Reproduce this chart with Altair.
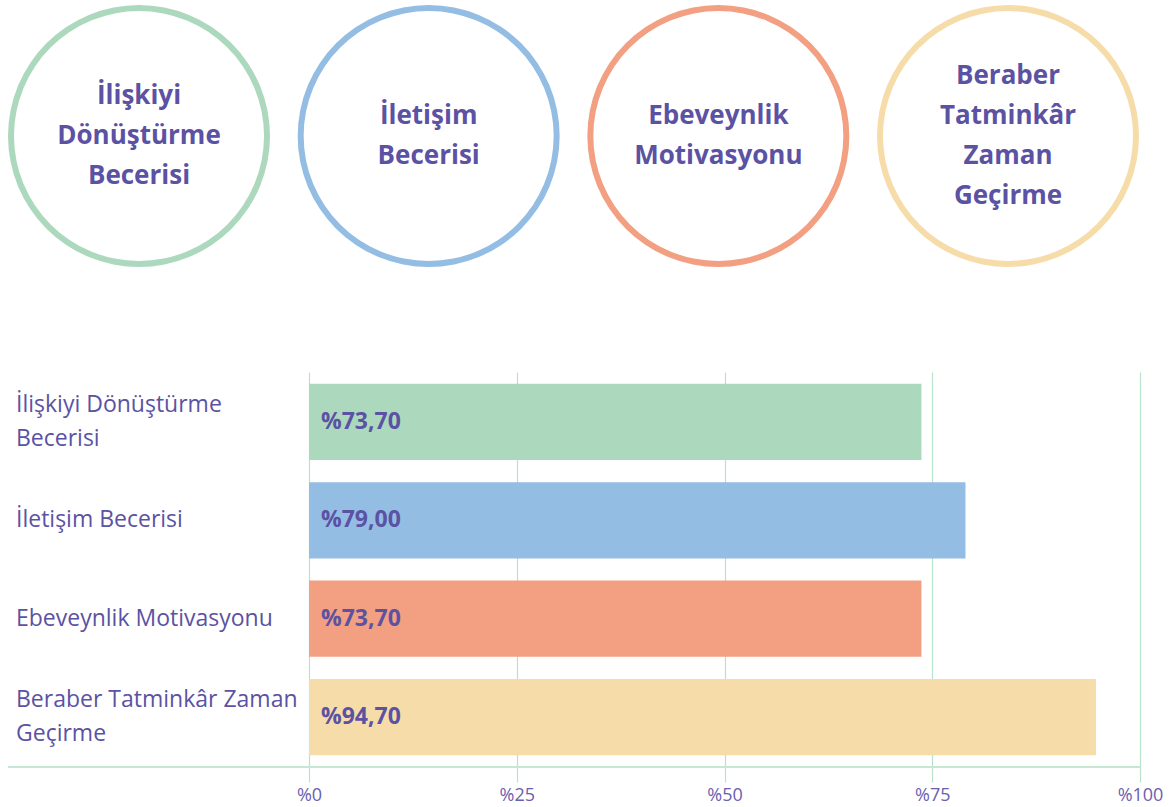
import altair as alt
import pandas as pd

categories = ["İlişkiyi Dönüştürme Becerisi", "İletişim Becerisi",
              "Ebeveynlik Motivasyonu", "Beraber Tatminkâr Zaman Geçirme"]
axis_labels = ["İlişkiyi Dönüştürme\nBecerisi", "İletişim Becerisi",
               "Ebeveynlik Motivasyonu", "Beraber Tatminkâr Zaman\nGeçirme"]
circle_labels = ["İlişkiyi\nDönüştürme\nBecerisi", "İletişim\nBecerisi",
                 "Ebeveynlik\nMotivasyonu", "Beraber\nTatminkâr\nZaman\nGeçirme"]
values = [73.70, 79.00, 73.70, 94.70]
value_labels = ["%73,70", "%79,00", "%73,70", "%94,70"]
colors = ["#acd9bd", "#94bde4", "#f29f82", "#f6dca9"]
tick_values = [0, 25, 50, 75, 100]

FONT = "Open Sans"
PURPLE = "#5b52a3"
GRID = "#b9e2cb"

df = pd.DataFrame({
    "cat": categories,
    "axis_label": axis_labels,
    "circle_label": circle_labels,
    "value": values,
    "vlabel": value_labels,
})

color_scale = alt.Scale(domain=categories, range=colors)

# Top: ring per category (x range extends to the left of the bar plot area)
x_top = alt.X("cat:N", sort=categories, axis=None,
              scale=alt.Scale(type="point", padding=0, range=[-170, 699]))
rings = alt.Chart(df).mark_arc(innerRadius=125, outerRadius=131).encode(
    x=x_top,
    theta=alt.value(0),
    theta2=alt.value(6.2832),
    color=alt.Color("cat:N", scale=color_scale, legend=None),
)
circle_text = alt.Chart(df).transform_calculate(
    off="-(length(split(datum.circle_label, '\\n')) - 1) * 20"
).mark_text(font=FONT, fontSize=26, fontWeight="bold",
            color=PURPLE, lineBreak="\n", lineHeight=40,
            baseline="middle", align="center").encode(
    x=x_top,
    yOffset=alt.YOffset("off:Q", scale=None),
    text="circle_label:N",
)
top = alt.layer(rings, circle_text).properties(width=831, height=272)

# Bottom: bars
y_band = alt.Y("axis_label:N", sort=axis_labels, title=None, axis=None,
               scale=alt.Scale(paddingInner=0.225, paddingOuter=0.12))
x_enc = alt.X("value:Q", title=None,
              scale=alt.Scale(domain=[0, 100], nice=False),
              axis=alt.Axis(values=tick_values, labelExpr="'%' + datum.value",
                            grid=True, gridColor=GRID, gridWidth=1.2,
                            tickColor=GRID, tickSize=15, tickWidth=1.2,
                            domain=False, labelFont=FONT, labelFontSize=18,
                            labelColor="#6a60b0", labelPadding=4,
                            labelFlush=False, labelOverlap=False))
bars = alt.Chart(df).mark_bar().encode(
    x=x_enc,
    y=y_band,
    color=alt.Color("cat:N", scale=color_scale, legend=None),
)
bar_text = alt.Chart(df).mark_text(font=FONT, fontSize=23, fontWeight="bold",
                                   color=PURPLE, align="left", dx=12,
                                   baseline="middle").encode(
    x=alt.datum(0),
    y=y_band,
    text="vlabel:N",
)
label_style = dict(font=FONT, fontSize=23, color=PURPLE, align="left",
                   baseline="middle", lineBreak="\n", lineHeight=34)
cat_text_single = alt.Chart(df).transform_filter(
    "indexof(datum.axis_label, '\\n') < 0"
).mark_text(**label_style).encode(
    x=alt.value(-293), y=y_band, text="axis_label:N")
cat_text_double = alt.Chart(df).transform_filter(
    "indexof(datum.axis_label, '\\n') >= 0"
).mark_text(dy=-17, **label_style).encode(
    x=alt.value(-293), y=y_band, text="axis_label:N")
baseline_rule = alt.Chart(pd.DataFrame({"a": [0]})).mark_rule(
    color="#c6e7d3", strokeWidth=2).encode(
    x=alt.value(-301), x2=alt.value(831), y=alt.value(395))

bottom = alt.layer(bars, bar_text, cat_text_single, cat_text_double,
                   baseline_rule).properties(width=831, height=395)

chart = alt.vconcat(top, bottom, spacing=100).properties(
    padding={"left": 7, "top": 0, "right": 0, "bottom": 0},
    background="white",
).configure_view(stroke=None)

chart.save("out.html", embed_options={"renderer": "svg", "actions": False})
